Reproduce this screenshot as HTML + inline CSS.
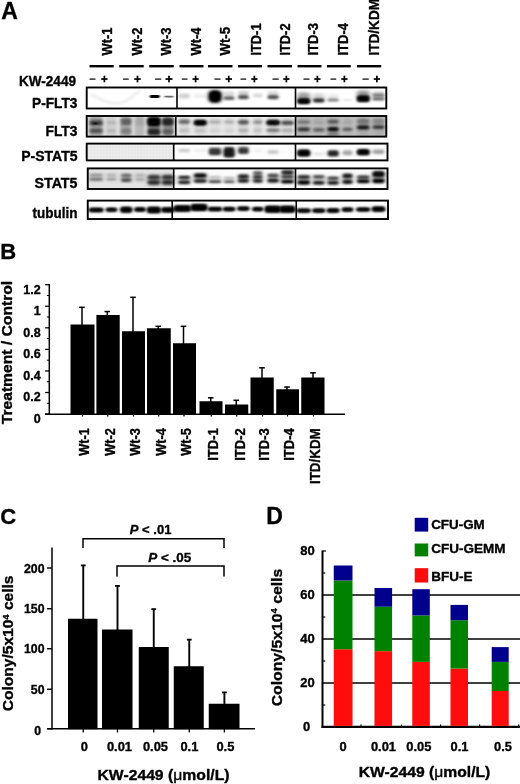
<!DOCTYPE html>
<html><head><meta charset="utf-8"><title>Figure</title>
<style>html,body{margin:0;padding:0;background:#fff}svg{display:block}</style></head>
<body>
<svg width="520" height="784" viewBox="0 0 520 784">
<defs>
<filter id="b1" x="-30%" y="-80%" width="160%" height="260%"><feGaussianBlur stdDeviation="1.4 1.15"/></filter>
<filter id="b2" x="-30%" y="-80%" width="160%" height="260%"><feGaussianBlur stdDeviation="2 1.8"/></filter>
<filter id="b0" x="-30%" y="-80%" width="160%" height="260%"><feGaussianBlur stdDeviation="1.1 0.8"/></filter>
<filter id="b00" x="-30%" y="-80%" width="160%" height="260%"><feGaussianBlur stdDeviation="0.8 0.55"/></filter>
<pattern id="dots" width="3.1" height="3.1" patternUnits="userSpaceOnUse"><rect x="0.8" y="0.8" width="1.5" height="1.5" fill="#000" fill-opacity="0.035"/></pattern>
<filter id="soft" x="-5%" y="-5%" width="110%" height="110%"><feGaussianBlur stdDeviation="0.42"/></filter>
</defs>
<rect width="520" height="784" fill="#fff"/>
<g filter="url(#soft)">
<text x="1.2" y="18.7" font-size="23" font-family="Liberation Sans, sans-serif" font-weight="bold" stroke="#000" stroke-width="0.35" stroke-linejoin="round">A</text>
<text transform="translate(111.6,55.5) rotate(-90)" font-size="14.8" textLength="28" lengthAdjust="spacingAndGlyphs" font-family="Liberation Sans, sans-serif" font-weight="bold" stroke="#000" stroke-width="0.35" stroke-linejoin="round">Wt-1</text>
<text transform="translate(141.5,55.5) rotate(-90)" font-size="14.8" textLength="28" lengthAdjust="spacingAndGlyphs" font-family="Liberation Sans, sans-serif" font-weight="bold" stroke="#000" stroke-width="0.35" stroke-linejoin="round">Wt-2</text>
<text transform="translate(170.5,55.5) rotate(-90)" font-size="14.8" textLength="28" lengthAdjust="spacingAndGlyphs" font-family="Liberation Sans, sans-serif" font-weight="bold" stroke="#000" stroke-width="0.35" stroke-linejoin="round">Wt-3</text>
<text transform="translate(200.5,55.5) rotate(-90)" font-size="14.8" textLength="28" lengthAdjust="spacingAndGlyphs" font-family="Liberation Sans, sans-serif" font-weight="bold" stroke="#000" stroke-width="0.35" stroke-linejoin="round">Wt-4</text>
<text transform="translate(230.4,55.5) rotate(-90)" font-size="14.8" textLength="28.5" lengthAdjust="spacingAndGlyphs" font-family="Liberation Sans, sans-serif" font-weight="bold" stroke="#000" stroke-width="0.35" stroke-linejoin="round">Wt-5</text>
<text transform="translate(260.5,55.5) rotate(-90)" font-size="14.8" textLength="32" lengthAdjust="spacingAndGlyphs" font-family="Liberation Sans, sans-serif" font-weight="bold" stroke="#000" stroke-width="0.35" stroke-linejoin="round">ITD-1</text>
<text transform="translate(290.3,55.5) rotate(-90)" font-size="14.8" textLength="32" lengthAdjust="spacingAndGlyphs" font-family="Liberation Sans, sans-serif" font-weight="bold" stroke="#000" stroke-width="0.35" stroke-linejoin="round">ITD-2</text>
<text transform="translate(317.8,55.5) rotate(-90)" font-size="14.8" textLength="32.5" lengthAdjust="spacingAndGlyphs" font-family="Liberation Sans, sans-serif" font-weight="bold" stroke="#000" stroke-width="0.35" stroke-linejoin="round">ITD-3</text>
<text transform="translate(347.5,55.5) rotate(-90)" font-size="14.8" textLength="32.5" lengthAdjust="spacingAndGlyphs" font-family="Liberation Sans, sans-serif" font-weight="bold" stroke="#000" stroke-width="0.35" stroke-linejoin="round">ITD-4</text>
<text transform="translate(378.6,55.5) rotate(-90)" font-size="14.8" textLength="56.5" lengthAdjust="spacingAndGlyphs" font-family="Liberation Sans, sans-serif" font-weight="bold" stroke="#000" stroke-width="0.35" stroke-linejoin="round">ITD/KDM</text>
<rect x="89.5" y="65" width="24.25" height="2.4" fill="#000"/>
<rect x="119.25" y="65" width="24.5" height="2.4" fill="#000"/>
<rect x="149.25" y="65" width="24.5" height="2.4" fill="#000"/>
<rect x="179.5" y="65" width="24.0" height="2.4" fill="#000"/>
<rect x="208" y="65" width="24.5" height="2.4" fill="#000"/>
<rect x="238" y="65" width="24" height="2.4" fill="#000"/>
<rect x="267.5" y="65" width="24.5" height="2.4" fill="#000"/>
<rect x="297.5" y="65" width="24.0" height="2.4" fill="#000"/>
<rect x="327" y="65" width="23.75" height="2.4" fill="#000"/>
<rect x="357" y="65" width="24.25" height="2.4" fill="#000"/>
<text x="19" y="85.5" font-size="14.3" textLength="57" lengthAdjust="spacingAndGlyphs" font-family="Liberation Sans, sans-serif" font-weight="bold" stroke="#000" stroke-width="0.35" stroke-linejoin="round">KW-2449</text>
<rect x="89.5" y="78.5" width="6.0" height="1.2" fill="#000"/>
<rect x="101.25" y="78.2" width="6.25" height="1.7" fill="#000"/>
<rect x="103.525" y="75.7" width="1.7" height="6.6" fill="#000"/>
<rect x="123" y="78.5" width="5.75" height="1.2" fill="#000"/>
<rect x="134.25" y="78.2" width="6.5" height="1.7" fill="#000"/>
<rect x="136.65" y="75.7" width="1.7" height="6.6" fill="#000"/>
<rect x="155" y="78.5" width="6.25" height="1.2" fill="#000"/>
<rect x="165.5" y="78.2" width="7.0" height="1.7" fill="#000"/>
<rect x="168.15" y="75.7" width="1.7" height="6.6" fill="#000"/>
<rect x="181.75" y="78.5" width="5.75" height="1.2" fill="#000"/>
<rect x="192.5" y="78.2" width="6.25" height="1.7" fill="#000"/>
<rect x="194.775" y="75.7" width="1.7" height="6.6" fill="#000"/>
<rect x="214.5" y="78.5" width="6.0" height="1.2" fill="#000"/>
<rect x="225.5" y="78.2" width="6.5" height="1.7" fill="#000"/>
<rect x="227.9" y="75.7" width="1.7" height="6.6" fill="#000"/>
<rect x="240.5" y="78.5" width="5.75" height="1.2" fill="#000"/>
<rect x="251.25" y="78.2" width="6.25" height="1.7" fill="#000"/>
<rect x="253.525" y="75.7" width="1.7" height="6.6" fill="#000"/>
<rect x="272.5" y="78.5" width="6.25" height="1.2" fill="#000"/>
<rect x="283.25" y="78.2" width="6.25" height="1.7" fill="#000"/>
<rect x="285.525" y="75.7" width="1.7" height="6.6" fill="#000"/>
<rect x="303.5" y="78.5" width="6.0" height="1.2" fill="#000"/>
<rect x="314.25" y="78.2" width="6.25" height="1.7" fill="#000"/>
<rect x="316.525" y="75.7" width="1.7" height="6.6" fill="#000"/>
<rect x="330.5" y="78.5" width="5.75" height="1.2" fill="#000"/>
<rect x="341.25" y="78.2" width="6.25" height="1.7" fill="#000"/>
<rect x="343.525" y="75.7" width="1.7" height="6.6" fill="#000"/>
<rect x="362.5" y="78.5" width="6.25" height="1.2" fill="#000"/>
<rect x="373.75" y="78.2" width="6.25" height="1.7" fill="#000"/>
<rect x="376.025" y="75.7" width="1.7" height="6.6" fill="#000"/>
<text x="77.5" y="108" text-anchor="end" font-size="14.5" textLength="45.5" lengthAdjust="spacingAndGlyphs" font-family="Liberation Sans, sans-serif" font-weight="bold" stroke="#000" stroke-width="0.35" stroke-linejoin="round">P-FLT3</text>
<text x="77.5" y="136.3" text-anchor="end" font-size="14.5" textLength="32" lengthAdjust="spacingAndGlyphs" font-family="Liberation Sans, sans-serif" font-weight="bold" stroke="#000" stroke-width="0.35" stroke-linejoin="round">FLT3</text>
<text x="77.5" y="161.3" text-anchor="end" font-size="14.5" textLength="56.3" lengthAdjust="spacingAndGlyphs" font-family="Liberation Sans, sans-serif" font-weight="bold" stroke="#000" stroke-width="0.35" stroke-linejoin="round">P-STAT5</text>
<text x="77.5" y="188.2" text-anchor="end" font-size="14.5" textLength="43" lengthAdjust="spacingAndGlyphs" font-family="Liberation Sans, sans-serif" font-weight="bold" stroke="#000" stroke-width="0.35" stroke-linejoin="round">STAT5</text>
<text x="77.5" y="218.2" text-anchor="end" font-size="14.5" textLength="45" lengthAdjust="spacingAndGlyphs" font-family="Liberation Sans, sans-serif" font-weight="bold" stroke="#000" stroke-width="0.35" stroke-linejoin="round">tubulin</text>
<rect x="86" y="87.5" width="300.25" height="21" fill="#fff"/>
<path d="M91,94.5 C97,97 104,103.5 116,103.5 C128,103.5 133,95 140,90.5" fill="none" stroke="#000" stroke-opacity="0.07" stroke-width="3" filter="url(#b1)"/>
<rect x="149.80" y="95.10" width="9.80" height="2.90" rx="1.45" fill="#000" fill-opacity="1" filter="url(#b00)"/>
<rect x="151.00" y="95.60" width="7.50" height="1.80" rx="0.90" fill="#000" fill-opacity="0.7" filter="url(#b00)"/>
<rect x="164.20" y="95.70" width="9.40" height="1.80" rx="0.90" fill="#000" fill-opacity="0.6" filter="url(#b00)"/>
<rect x="178.50" y="93.50" width="11.50" height="5.00" rx="2.50" fill="#000" fill-opacity="0.18" filter="url(#b1)"/>
<rect x="194.00" y="94.00" width="12.50" height="4.00" rx="2.00" fill="#000" fill-opacity="0.07" filter="url(#b1)"/>
<rect x="208.6" y="90.2" width="12.8" height="12.6" rx="4.5" fill="#000" filter="url(#b2)"/>
<rect x="209.6" y="91.6" width="10.8" height="10" rx="4" fill="#000" filter="url(#b1)"/>
<rect x="223.75" y="96.30" width="10.75" height="3.70" rx="1.85" fill="#000" fill-opacity="0.62" filter="url(#b1)"/>
<rect x="223.75" y="91.50" width="10.75" height="4.50" rx="2.25" fill="#000" fill-opacity="0.15" filter="url(#b1)"/>
<rect x="238.00" y="95.00" width="10.75" height="4.30" rx="2.15" fill="#000" fill-opacity="0.68" filter="url(#b1)"/>
<rect x="238.00" y="91.00" width="10.75" height="4.00" rx="2.00" fill="#000" fill-opacity="0.2" filter="url(#b1)"/>
<rect x="253.00" y="93.50" width="9.50" height="4.00" rx="2.00" fill="#000" fill-opacity="0.16" filter="url(#b1)"/>
<rect x="267.50" y="95.00" width="11.25" height="4.30" rx="2.15" fill="#000" fill-opacity="0.68" filter="url(#b1)"/>
<rect x="267.50" y="91.00" width="11.25" height="4.00" rx="2.00" fill="#000" fill-opacity="0.15" filter="url(#b1)"/>
<rect x="297.50" y="98.30" width="12.50" height="5.70" rx="2.50" fill="#000" fill-opacity="1" filter="url(#b1)"/>
<rect x="297.50" y="92.50" width="12.50" height="8.00" rx="2.50" fill="#000" fill-opacity="0.38" filter="url(#b2)"/>
<rect x="297.50" y="99.00" width="12.50" height="4.50" rx="2.25" fill="#000" fill-opacity="0.5" filter="url(#b1)"/>
<rect x="313.00" y="98.50" width="11.50" height="4.10" rx="2.05" fill="#000" fill-opacity="0.85" filter="url(#b1)"/>
<rect x="313.00" y="93.50" width="11.50" height="6.50" rx="2.50" fill="#000" fill-opacity="0.18" filter="url(#b2)"/>
<rect x="327.50" y="98.50" width="11.25" height="3.00" rx="1.50" fill="#000" fill-opacity="0.5" filter="url(#b1)"/>
<rect x="327.50" y="94.00" width="11.25" height="4.00" rx="2.00" fill="#000" fill-opacity="0.08" filter="url(#b1)"/>
<rect x="342.50" y="99.00" width="10.00" height="2.00" rx="1.00" fill="#000" fill-opacity="0.1" filter="url(#b1)"/>
<rect x="357.00" y="95.50" width="12.50" height="6.50" rx="2.50" fill="#000" fill-opacity="1" filter="url(#b1)"/>
<rect x="357.00" y="90.50" width="12.50" height="7.50" rx="2.50" fill="#000" fill-opacity="0.42" filter="url(#b2)"/>
<rect x="357.00" y="96.00" width="12.50" height="5.50" rx="2.50" fill="#000" fill-opacity="0.5" filter="url(#b1)"/>
<rect x="372.50" y="93.80" width="12.00" height="2.60" rx="1.30" fill="#000" fill-opacity="0.5" filter="url(#b1)"/>
<rect x="372.50" y="97.60" width="12.00" height="2.70" rx="1.35" fill="#000" fill-opacity="0.55" filter="url(#b1)"/>
<rect x="372.50" y="91.00" width="12.00" height="10.00" rx="2.50" fill="#000" fill-opacity="0.15" filter="url(#b1)"/>
<rect x="86" y="116" width="89.25" height="20.5" fill="#e6e6e6"/>
<rect x="175.25" y="116" width="120.25" height="20.5" fill="#f1f1f1"/>
<rect x="295.5" y="116" width="90.75" height="20.5" fill="#c2c2c2"/>
<rect x="178.50" y="117.00" width="11.50" height="18.80" rx="2.50" fill="#000" fill-opacity="0.1" filter="url(#b2)"/>
<rect x="194.00" y="117.00" width="12.50" height="18.80" rx="2.50" fill="#000" fill-opacity="0.1" filter="url(#b2)"/>
<rect x="208.75" y="117.00" width="12.50" height="18.80" rx="2.50" fill="#000" fill-opacity="0.07" filter="url(#b2)"/>
<rect x="223.75" y="117.00" width="10.75" height="18.80" rx="2.50" fill="#000" fill-opacity="0.07" filter="url(#b2)"/>
<rect x="238.00" y="117.00" width="10.75" height="18.80" rx="2.50" fill="#000" fill-opacity="0.12" filter="url(#b2)"/>
<rect x="253.00" y="117.00" width="9.50" height="18.80" rx="2.50" fill="#000" fill-opacity="0.1" filter="url(#b2)"/>
<rect x="267.50" y="117.00" width="11.25" height="18.80" rx="2.50" fill="#000" fill-opacity="0.15" filter="url(#b2)"/>
<rect x="281.25" y="117.00" width="12.50" height="18.80" rx="2.50" fill="#000" fill-opacity="0.12" filter="url(#b2)"/>
<rect x="297.50" y="117.00" width="12.50" height="18.80" rx="2.50" fill="#000" fill-opacity="0.1" filter="url(#b2)"/>
<rect x="313.00" y="117.00" width="11.50" height="18.80" rx="2.50" fill="#000" fill-opacity="0.08" filter="url(#b2)"/>
<rect x="327.50" y="117.00" width="11.25" height="18.80" rx="2.50" fill="#000" fill-opacity="0.14" filter="url(#b2)"/>
<rect x="342.50" y="117.00" width="10.00" height="18.80" rx="2.50" fill="#000" fill-opacity="0.08" filter="url(#b2)"/>
<rect x="357.00" y="117.00" width="12.50" height="18.80" rx="2.50" fill="#000" fill-opacity="0.14" filter="url(#b2)"/>
<rect x="372.50" y="117.00" width="12.00" height="18.80" rx="2.50" fill="#000" fill-opacity="0.12" filter="url(#b2)"/>
<rect x="89.30" y="116.50" width="13.50" height="19.80" rx="2.50" fill="#000" fill-opacity="0.3" filter="url(#b1)"/>
<rect x="105.50" y="116.50" width="11.00" height="19.80" rx="2.50" fill="#000" fill-opacity="0.1" filter="url(#b1)"/>
<rect x="120.00" y="116.50" width="11.60" height="19.80" rx="2.50" fill="#000" fill-opacity="0.28" filter="url(#b1)"/>
<rect x="134.50" y="116.50" width="10.10" height="19.80" rx="2.50" fill="#000" fill-opacity="0.2" filter="url(#b1)"/>
<rect x="147.60" y="116.50" width="13.00" height="19.80" rx="2.50" fill="#000" fill-opacity="0.5" filter="url(#b1)"/>
<rect x="162.50" y="116.50" width="11.10" height="19.80" rx="2.50" fill="#000" fill-opacity="0.4" filter="url(#b1)"/>
<rect x="89.50" y="120.30" width="13.25" height="5.10" rx="2.50" fill="#000" fill-opacity="0.6" filter="url(#b1)"/>
<rect x="89.50" y="128.60" width="13.25" height="4.40" rx="2.20" fill="#000" fill-opacity="0.5" filter="url(#b1)"/>
<rect x="93.00" y="122.60" width="4.50" height="2.00" rx="1.00" fill="#000" fill-opacity="0.8" filter="url(#b00)"/>
<rect x="106.50" y="121.00" width="10.00" height="3.50" rx="1.75" fill="#000" fill-opacity="0.12" filter="url(#b1)"/>
<rect x="106.50" y="129.00" width="10.00" height="3.50" rx="1.75" fill="#000" fill-opacity="0.12" filter="url(#b1)"/>
<rect x="121.00" y="118.50" width="10.50" height="6.50" rx="2.50" fill="#000" fill-opacity="0.42" filter="url(#b1)"/>
<rect x="121.00" y="128.40" width="10.50" height="5.20" rx="2.50" fill="#000" fill-opacity="0.25" filter="url(#b1)"/>
<rect x="135.00" y="118.00" width="10.00" height="8.00" rx="2.50" fill="#000" fill-opacity="0.1" filter="url(#b2)"/>
<rect x="147.75" y="117.60" width="12.25" height="8.40" rx="2.50" fill="#000" fill-opacity="1" filter="url(#b1)"/>
<rect x="147.75" y="118.50" width="12.25" height="6.50" rx="2.50" fill="#000" fill-opacity="0.6" filter="url(#b1)"/>
<rect x="147.75" y="129.00" width="12.25" height="5.60" rx="2.50" fill="#000" fill-opacity="0.7" filter="url(#b1)"/>
<rect x="162.00" y="118.20" width="11.50" height="7.40" rx="2.50" fill="#000" fill-opacity="0.75" filter="url(#b1)"/>
<rect x="162.00" y="129.20" width="11.50" height="4.60" rx="2.30" fill="#000" fill-opacity="0.35" filter="url(#b1)"/>
<rect x="178.50" y="119.50" width="11.50" height="4.50" rx="2.25" fill="#000" fill-opacity="0.5" filter="url(#b1)"/>
<rect x="178.50" y="128.50" width="11.50" height="3.50" rx="1.75" fill="#000" fill-opacity="0.12" filter="url(#b1)"/>
<rect x="194.00" y="120.00" width="12.50" height="5.60" rx="2.50" fill="#000" fill-opacity="1" filter="url(#b1)"/>
<rect x="194.00" y="120.50" width="12.50" height="4.50" rx="2.25" fill="#000" fill-opacity="0.5" filter="url(#b1)"/>
<rect x="194.00" y="129.00" width="12.50" height="3.00" rx="1.50" fill="#000" fill-opacity="0.12" filter="url(#b1)"/>
<rect x="208.75" y="120.00" width="12.50" height="4.00" rx="2.00" fill="#000" fill-opacity="0.2" filter="url(#b1)"/>
<rect x="208.75" y="129.00" width="12.50" height="3.00" rx="1.50" fill="#000" fill-opacity="0.08" filter="url(#b1)"/>
<rect x="223.75" y="120.00" width="10.75" height="4.00" rx="2.00" fill="#000" fill-opacity="0.2" filter="url(#b1)"/>
<rect x="223.75" y="129.00" width="10.75" height="3.00" rx="1.50" fill="#000" fill-opacity="0.08" filter="url(#b1)"/>
<rect x="238.00" y="120.00" width="10.75" height="4.50" rx="2.25" fill="#000" fill-opacity="0.58" filter="url(#b1)"/>
<rect x="238.00" y="129.00" width="10.75" height="2.80" rx="1.40" fill="#000" fill-opacity="0.2" filter="url(#b1)"/>
<rect x="253.00" y="120.30" width="9.50" height="3.70" rx="1.85" fill="#000" fill-opacity="0.32" filter="url(#b1)"/>
<rect x="253.00" y="129.00" width="9.50" height="2.80" rx="1.40" fill="#000" fill-opacity="0.12" filter="url(#b1)"/>
<rect x="266.25" y="120.00" width="13.75" height="5.30" rx="2.50" fill="#000" fill-opacity="0.95" filter="url(#b1)"/>
<rect x="267.50" y="120.50" width="11.25" height="4.00" rx="2.00" fill="#000" fill-opacity="0.4" filter="url(#b1)"/>
<rect x="266.25" y="128.80" width="13.75" height="3.00" rx="1.50" fill="#000" fill-opacity="0.45" filter="url(#b1)"/>
<rect x="281.25" y="120.80" width="12.50" height="4.20" rx="2.10" fill="#000" fill-opacity="0.62" filter="url(#b1)"/>
<rect x="281.25" y="129.00" width="12.50" height="2.80" rx="1.40" fill="#000" fill-opacity="0.2" filter="url(#b1)"/>
<rect x="297.50" y="120.80" width="12.50" height="2.70" rx="1.35" fill="#000" fill-opacity="0.4" filter="url(#b1)"/>
<rect x="297.50" y="127.60" width="12.50" height="3.60" rx="1.80" fill="#000" fill-opacity="0.72" filter="url(#b1)"/>
<rect x="313.00" y="121.00" width="11.50" height="2.50" rx="1.25" fill="#000" fill-opacity="0.12" filter="url(#b1)"/>
<rect x="313.00" y="128.30" width="11.50" height="3.30" rx="1.65" fill="#000" fill-opacity="0.5" filter="url(#b1)"/>
<rect x="327.50" y="120.00" width="11.25" height="3.50" rx="1.75" fill="#000" fill-opacity="0.5" filter="url(#b1)"/>
<rect x="327.50" y="127.00" width="11.25" height="4.60" rx="2.30" fill="#000" fill-opacity="0.9" filter="url(#b1)"/>
<rect x="327.50" y="133.00" width="11.25" height="2.50" rx="1.25" fill="#000" fill-opacity="0.35" filter="url(#b1)"/>
<rect x="342.50" y="121.00" width="10.00" height="2.50" rx="1.25" fill="#000" fill-opacity="0.1" filter="url(#b1)"/>
<rect x="342.50" y="127.70" width="10.00" height="3.30" rx="1.65" fill="#000" fill-opacity="0.5" filter="url(#b1)"/>
<rect x="357.00" y="119.00" width="12.50" height="5.00" rx="2.50" fill="#000" fill-opacity="0.3" filter="url(#b1)"/>
<rect x="357.00" y="125.20" width="12.50" height="4.40" rx="2.20" fill="#000" fill-opacity="0.85" filter="url(#b1)"/>
<rect x="372.50" y="119.00" width="12.00" height="5.00" rx="2.50" fill="#000" fill-opacity="0.22" filter="url(#b1)"/>
<rect x="372.50" y="125.20" width="12.00" height="3.80" rx="1.90" fill="#000" fill-opacity="0.68" filter="url(#b1)"/>
<rect x="86" y="143.5" width="87.5" height="16.75" fill="#ececec"/>
<rect x="173.5" y="143.5" width="214" height="16.75" fill="#fdfdfd"/>
<rect x="88" y="145" width="85" height="14.5" fill="url(#dots)"/>
<rect x="178.50" y="148.80" width="11.50" height="3.40" rx="1.70" fill="#000" fill-opacity="0.2" filter="url(#b1)"/>
<rect x="194.00" y="149.00" width="12.50" height="3.00" rx="1.50" fill="#000" fill-opacity="0.06" filter="url(#b1)"/>
<rect x="208.75" y="148.30" width="12.50" height="7.00" rx="2.50" fill="#000" fill-opacity="0.78" filter="url(#b1)"/>
<rect x="208.75" y="147.00" width="12.50" height="3.00" rx="1.50" fill="#000" fill-opacity="0.2" filter="url(#b1)"/>
<rect x="223.75" y="147.00" width="10.75" height="10.50" rx="2.50" fill="#000" fill-opacity="0.85" filter="url(#b1)"/>
<rect x="223.75" y="149.50" width="10.75" height="7.00" rx="2.50" fill="#000" fill-opacity="0.4" filter="url(#b1)"/>
<rect x="238.00" y="147.60" width="10.75" height="6.40" rx="2.50" fill="#000" fill-opacity="0.78" filter="url(#b1)"/>
<rect x="238.00" y="146.00" width="10.75" height="3.00" rx="1.50" fill="#000" fill-opacity="0.2" filter="url(#b1)"/>
<rect x="253.00" y="149.00" width="9.50" height="3.00" rx="1.50" fill="#000" fill-opacity="0.05" filter="url(#b1)"/>
<rect x="267.50" y="150.00" width="11.25" height="4.00" rx="2.00" fill="#000" fill-opacity="0.2" filter="url(#b1)"/>
<rect x="297.50" y="149.50" width="12.50" height="7.00" rx="2.50" fill="#000" fill-opacity="1" filter="url(#b1)"/>
<rect x="297.50" y="150.50" width="12.50" height="5.00" rx="2.50" fill="#000" fill-opacity="0.5" filter="url(#b1)"/>
<rect x="313.00" y="152.50" width="11.50" height="2.80" rx="1.40" fill="#000" fill-opacity="0.1" filter="url(#b1)"/>
<rect x="327.50" y="150.20" width="11.25" height="6.30" rx="2.50" fill="#000" fill-opacity="0.85" filter="url(#b1)"/>
<rect x="342.50" y="150.20" width="10.00" height="5.00" rx="2.50" fill="#000" fill-opacity="0.35" filter="url(#b1)"/>
<rect x="357.00" y="149.00" width="12.50" height="6.30" rx="2.50" fill="#000" fill-opacity="1" filter="url(#b1)"/>
<rect x="357.00" y="150.00" width="12.50" height="4.50" rx="2.25" fill="#000" fill-opacity="0.4" filter="url(#b1)"/>
<rect x="372.50" y="149.50" width="12.00" height="4.50" rx="2.25" fill="#000" fill-opacity="0.36" filter="url(#b1)"/>
<rect x="87.75" y="168" width="85.75" height="20.75" fill="#e2e2e2"/>
<rect x="173.5" y="168" width="214" height="20.75" fill="#fbfbfb"/>
<rect x="89.50" y="173.70" width="13.25" height="7.00" rx="2.50" fill="#000" fill-opacity="0.12" filter="url(#b2)"/>
<rect x="89.50" y="173.70" width="13.25" height="2.60" rx="1.30" fill="#000" fill-opacity="0.3" filter="url(#b1)"/>
<rect x="89.50" y="178.00" width="13.25" height="2.70" rx="1.35" fill="#000" fill-opacity="0.45" filter="url(#b1)"/>
<rect x="106.50" y="173.70" width="10.00" height="6.80" rx="2.50" fill="#000" fill-opacity="0.072" filter="url(#b2)"/>
<rect x="106.50" y="173.70" width="10.00" height="2.60" rx="1.30" fill="#000" fill-opacity="0.18" filter="url(#b1)"/>
<rect x="106.50" y="178.00" width="10.00" height="2.50" rx="1.25" fill="#000" fill-opacity="0.28" filter="url(#b1)"/>
<rect x="121.00" y="173.70" width="10.50" height="8.30" rx="2.50" fill="#000" fill-opacity="0.18000000000000002" filter="url(#b2)"/>
<rect x="121.00" y="173.70" width="10.50" height="3.30" rx="1.65" fill="#000" fill-opacity="0.45" filter="url(#b1)"/>
<rect x="121.00" y="178.20" width="10.50" height="3.80" rx="1.90" fill="#000" fill-opacity="0.6" filter="url(#b1)"/>
<rect x="135.00" y="173.70" width="10.00" height="7.30" rx="2.50" fill="#000" fill-opacity="0.072" filter="url(#b2)"/>
<rect x="135.00" y="173.70" width="10.00" height="2.80" rx="1.40" fill="#000" fill-opacity="0.18" filter="url(#b1)"/>
<rect x="135.00" y="178.20" width="10.00" height="2.80" rx="1.40" fill="#000" fill-opacity="0.22" filter="url(#b1)"/>
<rect x="147.75" y="175.30" width="12.25" height="9.30" rx="2.50" fill="#000" fill-opacity="0.248" filter="url(#b2)"/>
<rect x="147.75" y="175.30" width="12.25" height="3.90" rx="1.95" fill="#000" fill-opacity="0.62" filter="url(#b1)"/>
<rect x="147.75" y="180.40" width="12.25" height="4.20" rx="2.10" fill="#000" fill-opacity="0.72" filter="url(#b1)"/>
<rect x="147.75" y="174.00" width="12.25" height="12.00" rx="2.50" fill="#000" fill-opacity="0.2" filter="url(#b2)"/>
<rect x="162.00" y="175.30" width="11.50" height="9.30" rx="2.50" fill="#000" fill-opacity="0.26" filter="url(#b2)"/>
<rect x="162.00" y="175.30" width="11.50" height="3.90" rx="1.95" fill="#000" fill-opacity="0.65" filter="url(#b1)"/>
<rect x="162.00" y="180.40" width="11.50" height="4.20" rx="2.10" fill="#000" fill-opacity="0.72" filter="url(#b1)"/>
<rect x="162.00" y="174.00" width="11.50" height="12.00" rx="2.50" fill="#000" fill-opacity="0.2" filter="url(#b2)"/>
<rect x="178.50" y="176.00" width="11.50" height="7.80" rx="2.50" fill="#000" fill-opacity="0.34" filter="url(#b2)"/>
<rect x="178.50" y="176.00" width="11.50" height="2.80" rx="1.40" fill="#000" fill-opacity="0.85" filter="url(#b1)"/>
<rect x="178.50" y="181.00" width="11.50" height="2.80" rx="1.40" fill="#000" fill-opacity="0.9" filter="url(#b1)"/>
<rect x="194.00" y="173.60" width="12.50" height="9.00" rx="2.50" fill="#000" fill-opacity="0.36000000000000004" filter="url(#b2)"/>
<rect x="194.00" y="173.60" width="12.50" height="4.00" rx="2.00" fill="#000" fill-opacity="0.95" filter="url(#b1)"/>
<rect x="194.00" y="179.50" width="12.50" height="3.10" rx="1.55" fill="#000" fill-opacity="0.9" filter="url(#b1)"/>
<rect x="208.75" y="176.00" width="12.50" height="7.00" rx="2.50" fill="#000" fill-opacity="0.08000000000000002" filter="url(#b2)"/>
<rect x="208.75" y="176.00" width="12.50" height="2.60" rx="1.30" fill="#000" fill-opacity="0.2" filter="url(#b1)"/>
<rect x="208.75" y="180.20" width="12.50" height="2.80" rx="1.40" fill="#000" fill-opacity="0.72" filter="url(#b1)"/>
<rect x="223.75" y="177.00" width="10.75" height="6.00" rx="2.50" fill="#000" fill-opacity="0.1" filter="url(#b2)"/>
<rect x="223.75" y="177.00" width="10.75" height="2.00" rx="1.00" fill="#000" fill-opacity="0.25" filter="url(#b1)"/>
<rect x="223.75" y="180.60" width="10.75" height="2.40" rx="1.20" fill="#000" fill-opacity="0.62" filter="url(#b1)"/>
<rect x="238.00" y="174.40" width="10.75" height="8.20" rx="2.50" fill="#000" fill-opacity="0.328" filter="url(#b2)"/>
<rect x="238.00" y="174.40" width="10.75" height="4.20" rx="2.10" fill="#000" fill-opacity="0.82" filter="url(#b1)"/>
<rect x="238.00" y="179.30" width="10.75" height="3.30" rx="1.65" fill="#000" fill-opacity="0.88" filter="url(#b1)"/>
<rect x="253.00" y="171.00" width="9.50" height="4.40" rx="2.20" fill="#000" fill-opacity="0.6" filter="url(#b1)"/>
<rect x="253.00" y="175.60" width="9.50" height="7.00" rx="2.50" fill="#000" fill-opacity="0.32000000000000006" filter="url(#b2)"/>
<rect x="253.00" y="175.60" width="9.50" height="3.00" rx="1.50" fill="#000" fill-opacity="0.8" filter="url(#b1)"/>
<rect x="253.00" y="179.60" width="9.50" height="3.00" rx="1.50" fill="#000" fill-opacity="0.88" filter="url(#b1)"/>
<rect x="267.50" y="173.80" width="11.25" height="8.80" rx="2.50" fill="#000" fill-opacity="0.248" filter="url(#b2)"/>
<rect x="267.50" y="173.80" width="11.25" height="3.60" rx="1.80" fill="#000" fill-opacity="0.62" filter="url(#b1)"/>
<rect x="267.50" y="178.80" width="11.25" height="3.80" rx="1.90" fill="#000" fill-opacity="0.88" filter="url(#b1)"/>
<rect x="281.25" y="170.00" width="12.50" height="5.00" rx="2.50" fill="#000" fill-opacity="0.82" filter="url(#b1)"/>
<rect x="281.25" y="175.60" width="12.50" height="7.60" rx="2.50" fill="#000" fill-opacity="0.32000000000000006" filter="url(#b2)"/>
<rect x="281.25" y="175.60" width="12.50" height="2.40" rx="1.20" fill="#000" fill-opacity="0.8" filter="url(#b1)"/>
<rect x="281.25" y="180.00" width="12.50" height="3.20" rx="1.60" fill="#000" fill-opacity="1" filter="url(#b1)"/>
<rect x="297.50" y="175.20" width="12.50" height="9.40" rx="2.50" fill="#000" fill-opacity="0.31200000000000006" filter="url(#b2)"/>
<rect x="297.50" y="175.20" width="12.50" height="3.60" rx="1.80" fill="#000" fill-opacity="0.78" filter="url(#b1)"/>
<rect x="297.50" y="180.50" width="12.50" height="4.10" rx="2.05" fill="#000" fill-opacity="1" filter="url(#b1)"/>
<rect x="313.00" y="175.30" width="11.50" height="9.20" rx="2.50" fill="#000" fill-opacity="0.26" filter="url(#b2)"/>
<rect x="313.00" y="175.30" width="11.50" height="2.90" rx="1.45" fill="#000" fill-opacity="0.65" filter="url(#b1)"/>
<rect x="313.00" y="181.20" width="11.50" height="3.30" rx="1.65" fill="#000" fill-opacity="0.9" filter="url(#b1)"/>
<rect x="327.50" y="176.80" width="11.25" height="7.70" rx="2.50" fill="#000" fill-opacity="0.288" filter="url(#b2)"/>
<rect x="327.50" y="176.80" width="11.25" height="2.80" rx="1.40" fill="#000" fill-opacity="0.72" filter="url(#b1)"/>
<rect x="327.50" y="181.20" width="11.25" height="3.30" rx="1.65" fill="#000" fill-opacity="0.9" filter="url(#b1)"/>
<rect x="342.50" y="173.80" width="10.00" height="10.00" rx="2.50" fill="#000" fill-opacity="0.34" filter="url(#b2)"/>
<rect x="342.50" y="173.80" width="10.00" height="4.20" rx="2.10" fill="#000" fill-opacity="0.85" filter="url(#b1)"/>
<rect x="342.50" y="180.00" width="10.00" height="3.80" rx="1.90" fill="#000" fill-opacity="0.9" filter="url(#b1)"/>
<rect x="357.00" y="175.50" width="12.50" height="7.50" rx="2.50" fill="#000" fill-opacity="0.27999999999999997" filter="url(#b2)"/>
<rect x="357.00" y="175.50" width="12.50" height="3.20" rx="1.60" fill="#000" fill-opacity="0.7" filter="url(#b1)"/>
<rect x="357.00" y="179.60" width="12.50" height="3.40" rx="1.70" fill="#000" fill-opacity="1" filter="url(#b1)"/>
<rect x="372.50" y="171.30" width="12.00" height="11.70" rx="2.50" fill="#000" fill-opacity="0.38" filter="url(#b2)"/>
<rect x="372.50" y="171.30" width="12.00" height="5.70" rx="2.50" fill="#000" fill-opacity="0.95" filter="url(#b1)"/>
<rect x="372.50" y="178.80" width="12.00" height="4.20" rx="2.10" fill="#000" fill-opacity="1" filter="url(#b1)"/>
<rect x="87.75" y="200.5" width="300.25" height="19" fill="#fdfdfd"/>
<rect x="88.80" y="207.70" width="14.65" height="4.60" rx="2.30" fill="#000" fill-opacity="1" filter="url(#b1)"/>
<rect x="89.50" y="208.40" width="13.25" height="3.20" rx="1.60" fill="#000" fill-opacity="0.7" filter="url(#b1)"/>
<rect x="105.80" y="207.65" width="11.40" height="4.20" rx="2.10" fill="#000" fill-opacity="1" filter="url(#b1)"/>
<rect x="106.50" y="208.35" width="10.00" height="2.80" rx="1.40" fill="#000" fill-opacity="0.7" filter="url(#b1)"/>
<rect x="120.30" y="206.70" width="11.90" height="6.10" rx="2.50" fill="#000" fill-opacity="1" filter="url(#b1)"/>
<rect x="121.00" y="207.40" width="10.50" height="4.70" rx="2.35" fill="#000" fill-opacity="0.7" filter="url(#b1)"/>
<rect x="134.30" y="207.20" width="11.40" height="4.60" rx="2.30" fill="#000" fill-opacity="1" filter="url(#b1)"/>
<rect x="135.00" y="207.90" width="10.00" height="3.20" rx="1.60" fill="#000" fill-opacity="0.7" filter="url(#b1)"/>
<rect x="147.05" y="206.70" width="13.65" height="6.60" rx="2.50" fill="#000" fill-opacity="1" filter="url(#b1)"/>
<rect x="147.75" y="207.40" width="12.25" height="5.20" rx="2.50" fill="#000" fill-opacity="0.7" filter="url(#b1)"/>
<rect x="161.30" y="207.20" width="12.90" height="5.20" rx="2.50" fill="#000" fill-opacity="1" filter="url(#b1)"/>
<rect x="162.00" y="207.90" width="11.50" height="3.80" rx="1.90" fill="#000" fill-opacity="0.7" filter="url(#b1)"/>
<rect x="173.80" y="205.20" width="17.15" height="6.60" rx="2.50" fill="#000" fill-opacity="1" filter="url(#b1)"/>
<rect x="174.50" y="205.90" width="15.75" height="5.20" rx="2.50" fill="#000" fill-opacity="0.7" filter="url(#b1)"/>
<rect x="190.80" y="203.95" width="16.40" height="7.10" rx="2.50" fill="#000" fill-opacity="1" filter="url(#b1)"/>
<rect x="191.50" y="204.65" width="15.00" height="5.70" rx="2.50" fill="#000" fill-opacity="0.7" filter="url(#b1)"/>
<rect x="208.05" y="207.05" width="13.90" height="4.20" rx="2.10" fill="#000" fill-opacity="1" filter="url(#b1)"/>
<rect x="208.75" y="207.75" width="12.50" height="2.80" rx="1.40" fill="#000" fill-opacity="0.7" filter="url(#b1)"/>
<rect x="223.05" y="207.05" width="12.15" height="4.20" rx="2.10" fill="#000" fill-opacity="1" filter="url(#b1)"/>
<rect x="223.75" y="207.75" width="10.75" height="2.80" rx="1.40" fill="#000" fill-opacity="0.7" filter="url(#b1)"/>
<rect x="237.30" y="206.45" width="12.15" height="4.20" rx="2.10" fill="#000" fill-opacity="1" filter="url(#b1)"/>
<rect x="238.00" y="207.15" width="10.75" height="2.80" rx="1.40" fill="#000" fill-opacity="0.7" filter="url(#b1)"/>
<rect x="252.30" y="207.05" width="10.90" height="4.20" rx="2.10" fill="#000" fill-opacity="1" filter="url(#b1)"/>
<rect x="253.00" y="207.75" width="9.50" height="2.80" rx="1.40" fill="#000" fill-opacity="0.7" filter="url(#b1)"/>
<rect x="264.80" y="205.70" width="15.90" height="7.10" rx="2.50" fill="#000" fill-opacity="1" filter="url(#b1)"/>
<rect x="265.50" y="206.40" width="14.50" height="5.70" rx="2.50" fill="#000" fill-opacity="0.7" filter="url(#b1)"/>
<rect x="279.80" y="205.70" width="15.40" height="7.10" rx="2.50" fill="#000" fill-opacity="1" filter="url(#b1)"/>
<rect x="280.50" y="206.40" width="14.00" height="5.70" rx="2.50" fill="#000" fill-opacity="0.7" filter="url(#b1)"/>
<rect x="296.80" y="208.50" width="13.90" height="4.20" rx="2.10" fill="#000" fill-opacity="1" filter="url(#b1)"/>
<rect x="297.50" y="209.20" width="12.50" height="2.80" rx="1.40" fill="#000" fill-opacity="0.7" filter="url(#b1)"/>
<rect x="312.30" y="208.50" width="12.90" height="4.20" rx="2.10" fill="#000" fill-opacity="1" filter="url(#b1)"/>
<rect x="313.00" y="209.20" width="11.50" height="2.80" rx="1.40" fill="#000" fill-opacity="0.7" filter="url(#b1)"/>
<rect x="326.80" y="208.20" width="12.65" height="4.60" rx="2.30" fill="#000" fill-opacity="1" filter="url(#b1)"/>
<rect x="327.50" y="208.90" width="11.25" height="3.20" rx="1.60" fill="#000" fill-opacity="0.7" filter="url(#b1)"/>
<rect x="341.80" y="207.55" width="11.40" height="4.20" rx="2.10" fill="#000" fill-opacity="1" filter="url(#b1)"/>
<rect x="342.50" y="208.25" width="10.00" height="2.80" rx="1.40" fill="#000" fill-opacity="0.7" filter="url(#b1)"/>
<rect x="356.30" y="207.40" width="13.90" height="4.20" rx="2.10" fill="#000" fill-opacity="1" filter="url(#b1)"/>
<rect x="357.00" y="208.10" width="12.50" height="2.80" rx="1.40" fill="#000" fill-opacity="0.7" filter="url(#b1)"/>
<rect x="371.80" y="206.40" width="13.40" height="5.40" rx="2.50" fill="#000" fill-opacity="1" filter="url(#b1)"/>
<rect x="372.50" y="207.10" width="12.00" height="4.00" rx="2.00" fill="#000" fill-opacity="0.7" filter="url(#b1)"/>
<rect x="86.7" y="87.5" width="299.6" height="21.0" fill="none" stroke="#000" stroke-width="1.9"/>
<line x1="177" y1="87.5" x2="177" y2="108.5" stroke="#000" stroke-width="1.6"/>
<line x1="295.5" y1="87.5" x2="295.5" y2="108.5" stroke="#000" stroke-width="1.6"/>
<rect x="86.7" y="116" width="299.6" height="20.599999999999994" fill="none" stroke="#000" stroke-width="1.9"/>
<line x1="175.8" y1="116" x2="175.8" y2="136.6" stroke="#000" stroke-width="1.6"/>
<line x1="295.5" y1="116" x2="295.5" y2="136.6" stroke="#000" stroke-width="1.6"/>
<rect x="86.7" y="143.6" width="300.8" height="16.80000000000001" fill="none" stroke="#000" stroke-width="1.9"/>
<line x1="173.7" y1="143.6" x2="173.7" y2="160.4" stroke="#000" stroke-width="1.6"/>
<line x1="295.5" y1="143.6" x2="295.5" y2="160.4" stroke="#000" stroke-width="1.6"/>
<rect x="87.75" y="168.4" width="299.75" height="20.599999999999994" fill="none" stroke="#000" stroke-width="1.9"/>
<line x1="173.7" y1="168.4" x2="173.7" y2="189" stroke="#000" stroke-width="1.6"/>
<line x1="295.5" y1="168.4" x2="295.5" y2="189" stroke="#000" stroke-width="1.6"/>
<rect x="87.75" y="200.6" width="300.25" height="18.400000000000006" fill="none" stroke="#000" stroke-width="1.9"/>
<line x1="172.2" y1="200.6" x2="172.2" y2="219" stroke="#000" stroke-width="1.6"/>
<line x1="296.25" y1="200.6" x2="296.25" y2="219" stroke="#000" stroke-width="1.6"/>
<text x="0.3" y="258.9" font-size="22" font-family="Liberation Sans, sans-serif" font-weight="bold" stroke="#000" stroke-width="0.35" stroke-linejoin="round">B</text>
<text transform="translate(12.4,424.3) rotate(-90)" font-size="14" textLength="143.5" lengthAdjust="spacingAndGlyphs" font-family="Liberation Sans, sans-serif" font-weight="bold" stroke="#000" stroke-width="0.35" stroke-linejoin="round">Treatment / Control</text>
<line x1="49.3" y1="284" x2="49.3" y2="415" stroke="#000" stroke-width="1.5"/>
<line x1="45" y1="414.2" x2="345" y2="414.2" stroke="#000" stroke-width="1.5"/>
<line x1="45.2" y1="414.10" x2="49.3" y2="414.10" stroke="#000" stroke-width="1.3"/>
<line x1="46.8" y1="403.31" x2="49.3" y2="403.31" stroke="#000" stroke-width="1"/>
<text x="40.6" y="422.70" text-anchor="end" font-size="12.5" font-family="Liberation Sans, sans-serif" font-weight="bold" stroke="#000" stroke-width="0.35" stroke-linejoin="round">0</text>
<line x1="45.2" y1="392.53" x2="49.3" y2="392.53" stroke="#000" stroke-width="1.3"/>
<line x1="46.8" y1="381.75" x2="49.3" y2="381.75" stroke="#000" stroke-width="1"/>
<text x="40.6" y="401.43" text-anchor="end" font-size="12.5" font-family="Liberation Sans, sans-serif" font-weight="bold" stroke="#000" stroke-width="0.35" stroke-linejoin="round">0.2</text>
<line x1="45.2" y1="370.96" x2="49.3" y2="370.96" stroke="#000" stroke-width="1.3"/>
<line x1="46.8" y1="360.18" x2="49.3" y2="360.18" stroke="#000" stroke-width="1"/>
<text x="40.6" y="379.86" text-anchor="end" font-size="12.5" font-family="Liberation Sans, sans-serif" font-weight="bold" stroke="#000" stroke-width="0.35" stroke-linejoin="round">0.4</text>
<line x1="45.2" y1="349.39" x2="49.3" y2="349.39" stroke="#000" stroke-width="1.3"/>
<line x1="46.8" y1="338.60" x2="49.3" y2="338.60" stroke="#000" stroke-width="1"/>
<text x="40.6" y="358.29" text-anchor="end" font-size="12.5" font-family="Liberation Sans, sans-serif" font-weight="bold" stroke="#000" stroke-width="0.35" stroke-linejoin="round">0.6</text>
<line x1="45.2" y1="327.82" x2="49.3" y2="327.82" stroke="#000" stroke-width="1.3"/>
<line x1="46.8" y1="317.04" x2="49.3" y2="317.04" stroke="#000" stroke-width="1"/>
<text x="40.6" y="336.72" text-anchor="end" font-size="12.5" font-family="Liberation Sans, sans-serif" font-weight="bold" stroke="#000" stroke-width="0.35" stroke-linejoin="round">0.8</text>
<line x1="45.2" y1="306.25" x2="49.3" y2="306.25" stroke="#000" stroke-width="1.3"/>
<line x1="46.8" y1="295.46" x2="49.3" y2="295.46" stroke="#000" stroke-width="1"/>
<text x="40.6" y="315.15" text-anchor="end" font-size="12.5" font-family="Liberation Sans, sans-serif" font-weight="bold" stroke="#000" stroke-width="0.35" stroke-linejoin="round">1</text>
<line x1="45.2" y1="284.68" x2="49.3" y2="284.68" stroke="#000" stroke-width="1.3"/>
<text x="40.6" y="293.58" text-anchor="end" font-size="12.5" font-family="Liberation Sans, sans-serif" font-weight="bold" stroke="#000" stroke-width="0.35" stroke-linejoin="round">1.2</text>
<rect x="70.5" y="324.5" width="24.0" height="90.0" fill="#000"/>
<line x1="82" y1="307" x2="82" y2="325.5" stroke="#000" stroke-width="1.5"/>
<line x1="79.2" y1="307.3" x2="84.8" y2="307.3" stroke="#000" stroke-width="1.5"/>
<line x1="82.5" y1="414" x2="82.5" y2="416.5" stroke="#000" stroke-width="1.2"/>
<rect x="96.4" y="315" width="23.299999999999997" height="99.5" fill="#000"/>
<line x1="107.3" y1="311.25" x2="107.3" y2="316" stroke="#000" stroke-width="1.5"/>
<line x1="104.5" y1="311.55" x2="110.1" y2="311.55" stroke="#000" stroke-width="1.5"/>
<line x1="107.8" y1="414" x2="107.8" y2="416.5" stroke="#000" stroke-width="1.2"/>
<rect x="122" y="331.25" width="23" height="83.25" fill="#000"/>
<line x1="133" y1="297" x2="133" y2="332.25" stroke="#000" stroke-width="1.5"/>
<line x1="130.2" y1="297.3" x2="135.8" y2="297.3" stroke="#000" stroke-width="1.5"/>
<line x1="133.5" y1="414" x2="133.5" y2="416.5" stroke="#000" stroke-width="1.2"/>
<rect x="147" y="328.25" width="23.75" height="86.25" fill="#000"/>
<line x1="158.25" y1="326" x2="158.25" y2="329.25" stroke="#000" stroke-width="1.5"/>
<line x1="155.45" y1="326.3" x2="161.05" y2="326.3" stroke="#000" stroke-width="1.5"/>
<line x1="158.75" y1="414" x2="158.75" y2="416.5" stroke="#000" stroke-width="1.2"/>
<rect x="173" y="343.25" width="23" height="71.25" fill="#000"/>
<line x1="183.5" y1="326" x2="183.5" y2="344.25" stroke="#000" stroke-width="1.5"/>
<line x1="180.7" y1="326.3" x2="186.3" y2="326.3" stroke="#000" stroke-width="1.5"/>
<line x1="184.0" y1="414" x2="184.0" y2="416.5" stroke="#000" stroke-width="1.2"/>
<rect x="199.5" y="401.25" width="23.0" height="13.25" fill="#000"/>
<line x1="210.75" y1="397.5" x2="210.75" y2="402.25" stroke="#000" stroke-width="1.5"/>
<line x1="207.95" y1="397.8" x2="213.55" y2="397.8" stroke="#000" stroke-width="1.5"/>
<line x1="211.25" y1="414" x2="211.25" y2="416.5" stroke="#000" stroke-width="1.2"/>
<rect x="225" y="404.5" width="23.25" height="10.0" fill="#000"/>
<line x1="236.25" y1="400" x2="236.25" y2="405.5" stroke="#000" stroke-width="1.5"/>
<line x1="233.45" y1="400.3" x2="239.05" y2="400.3" stroke="#000" stroke-width="1.5"/>
<line x1="236.75" y1="414" x2="236.75" y2="416.5" stroke="#000" stroke-width="1.2"/>
<rect x="250.5" y="377.5" width="23.25" height="37.0" fill="#000"/>
<line x1="262" y1="367.5" x2="262" y2="378.5" stroke="#000" stroke-width="1.5"/>
<line x1="259.2" y1="367.8" x2="264.8" y2="367.8" stroke="#000" stroke-width="1.5"/>
<line x1="262.5" y1="414" x2="262.5" y2="416.5" stroke="#000" stroke-width="1.2"/>
<rect x="276.25" y="389.25" width="22.75" height="25.25" fill="#000"/>
<line x1="287" y1="386.75" x2="287" y2="390.25" stroke="#000" stroke-width="1.5"/>
<line x1="284.2" y1="387.05" x2="289.8" y2="387.05" stroke="#000" stroke-width="1.5"/>
<line x1="287.5" y1="414" x2="287.5" y2="416.5" stroke="#000" stroke-width="1.2"/>
<rect x="301.25" y="377.5" width="23.25" height="37.0" fill="#000"/>
<line x1="313" y1="372.5" x2="313" y2="378.5" stroke="#000" stroke-width="1.5"/>
<line x1="310.2" y1="372.8" x2="315.8" y2="372.8" stroke="#000" stroke-width="1.5"/>
<line x1="313.5" y1="414" x2="313.5" y2="416.5" stroke="#000" stroke-width="1.2"/>
<text transform="translate(89.3,428.3) rotate(-90)" text-anchor="end" font-size="13.8" textLength="27.5" lengthAdjust="spacingAndGlyphs" font-family="Liberation Sans, sans-serif" font-weight="bold" stroke="#000" stroke-width="0.35" stroke-linejoin="round">Wt-1</text>
<text transform="translate(114.8,428.3) rotate(-90)" text-anchor="end" font-size="13.8" textLength="27.5" lengthAdjust="spacingAndGlyphs" font-family="Liberation Sans, sans-serif" font-weight="bold" stroke="#000" stroke-width="0.35" stroke-linejoin="round">Wt-2</text>
<text transform="translate(140.3,428.3) rotate(-90)" text-anchor="end" font-size="13.8" textLength="27.5" lengthAdjust="spacingAndGlyphs" font-family="Liberation Sans, sans-serif" font-weight="bold" stroke="#000" stroke-width="0.35" stroke-linejoin="round">Wt-3</text>
<text transform="translate(165.6,428.3) rotate(-90)" text-anchor="end" font-size="13.8" textLength="27.5" lengthAdjust="spacingAndGlyphs" font-family="Liberation Sans, sans-serif" font-weight="bold" stroke="#000" stroke-width="0.35" stroke-linejoin="round">Wt-4</text>
<text transform="translate(191,428.3) rotate(-90)" text-anchor="end" font-size="13.8" textLength="27.5" lengthAdjust="spacingAndGlyphs" font-family="Liberation Sans, sans-serif" font-weight="bold" stroke="#000" stroke-width="0.35" stroke-linejoin="round">Wt-5</text>
<text transform="translate(218,428.3) rotate(-90)" text-anchor="end" font-size="13.8" textLength="32.5" lengthAdjust="spacingAndGlyphs" font-family="Liberation Sans, sans-serif" font-weight="bold" stroke="#000" stroke-width="0.35" stroke-linejoin="round">ITD-1</text>
<text transform="translate(244.7,428.3) rotate(-90)" text-anchor="end" font-size="13.8" textLength="32.5" lengthAdjust="spacingAndGlyphs" font-family="Liberation Sans, sans-serif" font-weight="bold" stroke="#000" stroke-width="0.35" stroke-linejoin="round">ITD-2</text>
<text transform="translate(269.3,428.3) rotate(-90)" text-anchor="end" font-size="13.8" textLength="32.5" lengthAdjust="spacingAndGlyphs" font-family="Liberation Sans, sans-serif" font-weight="bold" stroke="#000" stroke-width="0.35" stroke-linejoin="round">ITD-3</text>
<text transform="translate(294.4,428.3) rotate(-90)" text-anchor="end" font-size="13.8" textLength="32.5" lengthAdjust="spacingAndGlyphs" font-family="Liberation Sans, sans-serif" font-weight="bold" stroke="#000" stroke-width="0.35" stroke-linejoin="round">ITD-4</text>
<text transform="translate(320.3,428.3) rotate(-90)" text-anchor="end" font-size="13.8" textLength="55.75" lengthAdjust="spacingAndGlyphs" font-family="Liberation Sans, sans-serif" font-weight="bold" stroke="#000" stroke-width="0.35" stroke-linejoin="round">ITD/KDM</text>
<text x="0.3" y="524.3" font-size="22" font-family="Liberation Sans, sans-serif" font-weight="bold" stroke="#000" stroke-width="0.35" stroke-linejoin="round">C</text>
<text transform="translate(13.4,711.3) rotate(-90)" font-size="15" font-family="Liberation Sans, sans-serif" font-weight="bold" stroke="#000" stroke-width="0.35" stroke-linejoin="round" textLength="135.8" lengthAdjust="spacingAndGlyphs">Colony/5x10<tspan font-size="9" dy="-4.5">4</tspan><tspan dy="4.5"> cells</tspan></text>
<line x1="52" y1="547.5" x2="52" y2="729.4" stroke="#000" stroke-width="1.5"/>
<line x1="47.5" y1="728.8" x2="255" y2="728.8" stroke="#000" stroke-width="1.5"/>
<line x1="47" y1="728.75" x2="52" y2="728.75" stroke="#000" stroke-width="1.4"/>
<text x="41.2" y="735.25" text-anchor="end" font-size="12.3" font-family="Liberation Sans, sans-serif" font-weight="bold" stroke="#000" stroke-width="0.35" stroke-linejoin="round">0</text>
<line x1="47" y1="689.25" x2="52" y2="689.25" stroke="#000" stroke-width="1.4"/>
<text x="44.5" y="693.75" text-anchor="end" font-size="12.3" font-family="Liberation Sans, sans-serif" font-weight="bold" stroke="#000" stroke-width="0.35" stroke-linejoin="round">50</text>
<line x1="47" y1="648.75" x2="52" y2="648.75" stroke="#000" stroke-width="1.4"/>
<text x="44.5" y="653.25" text-anchor="end" font-size="12.3" font-family="Liberation Sans, sans-serif" font-weight="bold" stroke="#000" stroke-width="0.35" stroke-linejoin="round">100</text>
<line x1="47" y1="608.75" x2="52" y2="608.75" stroke="#000" stroke-width="1.4"/>
<text x="44.5" y="613.25" text-anchor="end" font-size="12.3" font-family="Liberation Sans, sans-serif" font-weight="bold" stroke="#000" stroke-width="0.35" stroke-linejoin="round">150</text>
<line x1="47" y1="568" x2="52" y2="568" stroke="#000" stroke-width="1.4"/>
<text x="44.5" y="572.5" text-anchor="end" font-size="12.3" font-family="Liberation Sans, sans-serif" font-weight="bold" stroke="#000" stroke-width="0.35" stroke-linejoin="round">200</text>
<rect x="68" y="618.75" width="29.5" height="110.45000000000005" fill="#000"/>
<line x1="83.25" y1="565" x2="83.25" y2="619.75" stroke="#000" stroke-width="1.9"/>
<line x1="80.85" y1="565.4" x2="85.65" y2="565.4" stroke="#000" stroke-width="1.8"/>
<line x1="83.25" y1="729" x2="83.25" y2="732.5" stroke="#000" stroke-width="1.3"/>
<rect x="102" y="629.5" width="30.5" height="99.70000000000005" fill="#000"/>
<line x1="117.5" y1="585.5" x2="117.5" y2="630.5" stroke="#000" stroke-width="1.9"/>
<line x1="115.1" y1="585.9" x2="119.9" y2="585.9" stroke="#000" stroke-width="1.8"/>
<line x1="117.5" y1="729" x2="117.5" y2="732.5" stroke="#000" stroke-width="1.3"/>
<rect x="138.75" y="647" width="30.0" height="82.20000000000005" fill="#000"/>
<line x1="153.75" y1="608.75" x2="153.75" y2="648" stroke="#000" stroke-width="1.9"/>
<line x1="151.35" y1="609.15" x2="156.15" y2="609.15" stroke="#000" stroke-width="1.8"/>
<line x1="153.75" y1="729" x2="153.75" y2="732.5" stroke="#000" stroke-width="1.3"/>
<rect x="173.75" y="666.25" width="30.0" height="62.950000000000045" fill="#000"/>
<line x1="189.25" y1="639.25" x2="189.25" y2="667.25" stroke="#000" stroke-width="1.9"/>
<line x1="186.85" y1="639.65" x2="191.65" y2="639.65" stroke="#000" stroke-width="1.8"/>
<line x1="189.25" y1="729" x2="189.25" y2="732.5" stroke="#000" stroke-width="1.3"/>
<rect x="208.75" y="703.75" width="30.75" height="25.450000000000045" fill="#000"/>
<line x1="224.4" y1="692" x2="224.4" y2="704.75" stroke="#000" stroke-width="1.9"/>
<line x1="222.0" y1="692.4" x2="226.8" y2="692.4" stroke="#000" stroke-width="1.8"/>
<line x1="224.4" y1="729" x2="224.4" y2="732.5" stroke="#000" stroke-width="1.3"/>
<text x="84.4" y="750.7" text-anchor="middle" font-size="12.9" font-family="Liberation Sans, sans-serif" font-weight="bold" stroke="#000" stroke-width="0.35" stroke-linejoin="round">0</text>
<text x="119.5" y="750.7" text-anchor="middle" font-size="12.9" font-family="Liberation Sans, sans-serif" font-weight="bold" stroke="#000" stroke-width="0.35" stroke-linejoin="round">0.01</text>
<text x="155.5" y="750.7" text-anchor="middle" font-size="12.9" font-family="Liberation Sans, sans-serif" font-weight="bold" stroke="#000" stroke-width="0.35" stroke-linejoin="round">0.05</text>
<text x="189.4" y="750.7" text-anchor="middle" font-size="12.9" font-family="Liberation Sans, sans-serif" font-weight="bold" stroke="#000" stroke-width="0.35" stroke-linejoin="round">0.1</text>
<text x="225.4" y="750.7" text-anchor="middle" font-size="12.9" font-family="Liberation Sans, sans-serif" font-weight="bold" stroke="#000" stroke-width="0.35" stroke-linejoin="round">0.5</text>
<text x="97.5" y="780" font-size="15" textLength="132" lengthAdjust="spacingAndGlyphs" font-family="Liberation Sans, sans-serif" font-weight="bold" stroke="#000" stroke-width="0.35" stroke-linejoin="round">KW-2449 (<tspan font-weight="normal">μ</tspan>mol/L)</text>
<polyline points="83,548 83,538.8 224,538.8 224,548" fill="none" stroke="#000" stroke-width="1.5"/>
<polyline points="117,576.5 117,566 224,566 224,576.5" fill="none" stroke="#000" stroke-width="1.5"/>
<text x="129.8" y="534.4" font-size="13" font-family="Liberation Sans, sans-serif" font-weight="bold" stroke="#000" stroke-width="0.35" stroke-linejoin="round" textLength="41.6" lengthAdjust="spacingAndGlyphs"><tspan font-style="italic">P</tspan> &lt; .01</text>
<text x="148.3" y="561.7" font-size="13" font-family="Liberation Sans, sans-serif" font-weight="bold" stroke="#000" stroke-width="0.35" stroke-linejoin="round" textLength="43" lengthAdjust="spacingAndGlyphs"><tspan font-style="italic">P</tspan> &lt; .05</text>
<text x="266.3" y="523.8" font-size="23" font-family="Liberation Sans, sans-serif" font-weight="bold" stroke="#000" stroke-width="0.35" stroke-linejoin="round">D</text>
<text transform="translate(281.8,706.3) rotate(-90)" font-size="15" font-family="Liberation Sans, sans-serif" font-weight="bold" stroke="#000" stroke-width="0.35" stroke-linejoin="round" textLength="137.5" lengthAdjust="spacingAndGlyphs">Colony/5x10<tspan font-size="9" dy="-4.5">4</tspan><tspan dy="4.5"> cells</tspan></text>
<line x1="322.5" y1="595.1" x2="520" y2="595.1" stroke="#000" stroke-width="1.5"/>
<line x1="322.5" y1="639.1" x2="520" y2="639.1" stroke="#000" stroke-width="1.5"/>
<line x1="322.5" y1="683" x2="520" y2="683" stroke="#000" stroke-width="1.5"/>
<line x1="322.5" y1="550.5" x2="322.5" y2="728" stroke="#000" stroke-width="2"/>
<line x1="321.5" y1="726.9" x2="520" y2="726.9" stroke="#000" stroke-width="2.2"/>
<line x1="322.5" y1="573" x2="325.3" y2="573" stroke="#000" stroke-width="1.2"/>
<line x1="322.5" y1="617" x2="325.3" y2="617" stroke="#000" stroke-width="1.2"/>
<line x1="322.5" y1="661" x2="325.3" y2="661" stroke="#000" stroke-width="1.2"/>
<line x1="322.5" y1="705" x2="325.3" y2="705" stroke="#000" stroke-width="1.2"/>
<line x1="322.5" y1="551" x2="326" y2="551" stroke="#000" stroke-width="1.2"/>
<line x1="361" y1="724.6" x2="361" y2="726.5" stroke="#000" stroke-width="1.2"/>
<line x1="401.5" y1="724.6" x2="401.5" y2="726.5" stroke="#000" stroke-width="1.2"/>
<line x1="440.6" y1="724.6" x2="440.6" y2="726.5" stroke="#000" stroke-width="1.2"/>
<line x1="479.6" y1="724.6" x2="479.6" y2="726.5" stroke="#000" stroke-width="1.2"/>
<line x1="518.7" y1="724.6" x2="518.7" y2="726.5" stroke="#000" stroke-width="1.2"/>
<text x="314.7" y="555" text-anchor="end" font-size="13" font-family="Liberation Sans, sans-serif" font-weight="bold" stroke="#000" stroke-width="0.35" stroke-linejoin="round">80</text>
<text x="314.7" y="599.2" text-anchor="end" font-size="13" font-family="Liberation Sans, sans-serif" font-weight="bold" stroke="#000" stroke-width="0.35" stroke-linejoin="round">60</text>
<text x="314.7" y="643.1" text-anchor="end" font-size="13" font-family="Liberation Sans, sans-serif" font-weight="bold" stroke="#000" stroke-width="0.35" stroke-linejoin="round">40</text>
<text x="314.7" y="686.6" text-anchor="end" font-size="13" font-family="Liberation Sans, sans-serif" font-weight="bold" stroke="#000" stroke-width="0.35" stroke-linejoin="round">20</text>
<text x="310.2" y="730.6" text-anchor="end" font-size="13" font-family="Liberation Sans, sans-serif" font-weight="bold" stroke="#000" stroke-width="0.35" stroke-linejoin="round">0</text>
<rect x="333.75" y="649.25" width="18.75" height="76.65" fill="#ff0808"/>
<rect x="333.75" y="580.5" width="18.75" height="68.75" fill="#008200"/>
<rect x="333.75" y="565.5" width="18.75" height="15.00" fill="#00008c"/>
<rect x="374.5" y="651.2" width="17.60" height="74.70" fill="#ff0808"/>
<rect x="374.5" y="606.75" width="17.60" height="44.45" fill="#008200"/>
<rect x="374.5" y="588" width="17.60" height="18.75" fill="#00008c"/>
<rect x="412.3" y="661.9" width="17.50" height="64.00" fill="#ff0808"/>
<rect x="412.3" y="615.4" width="17.50" height="46.50" fill="#008200"/>
<rect x="412.3" y="589.2" width="17.50" height="26.20" fill="#00008c"/>
<rect x="450.5" y="668.6" width="17.50" height="57.30" fill="#ff0808"/>
<rect x="450.5" y="620.2" width="17.50" height="48.40" fill="#008200"/>
<rect x="450.5" y="604.9" width="17.50" height="15.30" fill="#00008c"/>
<rect x="491.7" y="691" width="17.00" height="34.90" fill="#ff0808"/>
<rect x="491.7" y="661.9" width="17.00" height="29.10" fill="#008200"/>
<rect x="491.7" y="647.1" width="17.00" height="14.80" fill="#00008c"/>
<text x="343.2" y="751.2" text-anchor="middle" font-size="12.9" font-family="Liberation Sans, sans-serif" font-weight="bold" stroke="#000" stroke-width="0.35" stroke-linejoin="round">0</text>
<text x="383.5" y="751.2" text-anchor="middle" font-size="12.9" font-family="Liberation Sans, sans-serif" font-weight="bold" stroke="#000" stroke-width="0.35" stroke-linejoin="round">0.01</text>
<text x="418.8" y="751.2" text-anchor="middle" font-size="12.9" font-family="Liberation Sans, sans-serif" font-weight="bold" stroke="#000" stroke-width="0.35" stroke-linejoin="round">0.05</text>
<text x="459.5" y="751.2" text-anchor="middle" font-size="12.9" font-family="Liberation Sans, sans-serif" font-weight="bold" stroke="#000" stroke-width="0.35" stroke-linejoin="round">0.1</text>
<text x="503" y="751.2" text-anchor="middle" font-size="12.9" font-family="Liberation Sans, sans-serif" font-weight="bold" stroke="#000" stroke-width="0.35" stroke-linejoin="round">0.5</text>
<text x="358.75" y="777.2" font-size="15" textLength="131.6" lengthAdjust="spacingAndGlyphs" font-family="Liberation Sans, sans-serif" font-weight="bold" stroke="#000" stroke-width="0.35" stroke-linejoin="round">KW-2449 (<tspan font-weight="normal">μ</tspan>mol/L)</text>
<rect x="414.7" y="517.8" width="13.5" height="13.80" fill="#00008c"/>
<text x="431.2" y="528.5" font-size="13.2" textLength="53.5" lengthAdjust="spacingAndGlyphs" font-family="Liberation Sans, sans-serif" font-weight="bold" stroke="#000" stroke-width="0.35" stroke-linejoin="round">CFU-GM</text>
<rect x="414.7" y="543.5" width="13.5" height="12.90" fill="#008200"/>
<text x="431.2" y="553.3" font-size="13.2" textLength="74.3" lengthAdjust="spacingAndGlyphs" font-family="Liberation Sans, sans-serif" font-weight="bold" stroke="#000" stroke-width="0.35" stroke-linejoin="round">CFU-GEMM</text>
<rect x="414.7" y="568.2" width="13.5" height="14.30" fill="#ff0808"/>
<text x="431.2" y="580.6" font-size="13.2" textLength="41.2" lengthAdjust="spacingAndGlyphs" font-family="Liberation Sans, sans-serif" font-weight="bold" stroke="#000" stroke-width="0.35" stroke-linejoin="round">BFU-E</text>
</g>
</svg>
</body></html>
